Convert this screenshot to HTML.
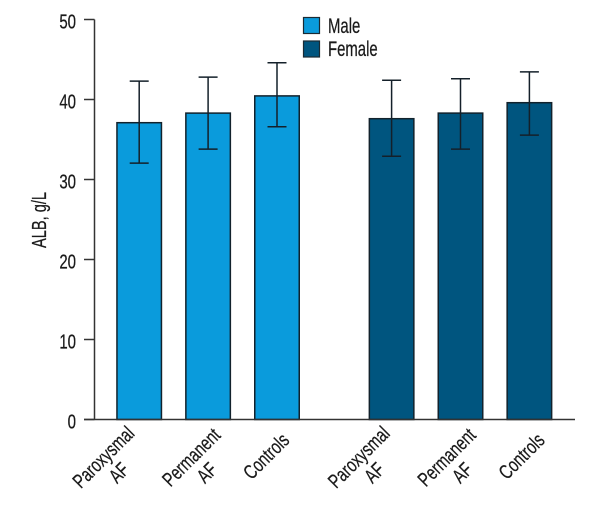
<!DOCTYPE html>
<html>
<head>
<meta charset="utf-8">
<style>
html,body{margin:0;padding:0;background:#fff;}
svg{display:block;}
text{font-family:"Liberation Sans",sans-serif;font-size:20px;fill:#1a1a1a;stroke:#1a1a1a;stroke-width:0.25;}
</style>
</head>
<body>
<svg id="chart" width="600" height="520" viewBox="0 0 600 520" xmlns="http://www.w3.org/2000/svg">
  <g id="bars"></g>
  <g id="axes"></g>
  <text transform="translate(46 220) rotate(-90) scale(0.73 1)" text-anchor="middle">ALB, g/L</text>
  <rect x="303.5" y="17.5" width="16" height="16" fill="#0a9bdc" stroke="#1a2a33" stroke-width="1.2"/>
  <text transform="translate(328 33) scale(0.71 1)" style="font-size:21px">Male</text>
  <rect x="303.5" y="41" width="16" height="16" fill="#00557f" stroke="#1a2a33" stroke-width="1.2"/>
  <text transform="translate(328 56) scale(0.71 1)" style="font-size:21px">Female</text>
</svg>
<script>
const categories = [["Paroxysmal","AF"],["Permanent","AF"],["Controls"]];
const maleValues = [37.1, 38.3, 40.45];
const maleUpper = [42.3, 42.8, 44.6];
const maleLower = [32.05, 33.8, 36.6];
const femaleValues = [37.6, 38.3, 39.6];
const femaleUpper = [42.4, 42.6, 43.45];
const femaleLower = [32.9, 33.8, 35.55];
const yTicks = [0, 10, 20, 30, 40, 50];

const NS = "http://www.w3.org/2000/svg";
const y = v => 419.5 - v * 8;
const barX = (group, i) => (group === 0 ? 139.2 : 391.6) + i * 68.9;
const BAR_W = 44.5;
const CAP = 9.5;
const LINE_GAP = 22;
const labelCenterDx = [-31, -12, -6];
const labelCenterY = [462, 462, 461];
const labelGroupDx = [0, 3];

function make(tag, attrs, parent) {
  const el = document.createElementNS(NS, tag);
  for (const k in attrs) el.setAttribute(k, attrs[k]);
  parent.appendChild(el);
  return el;
}

const barsG = document.getElementById("bars");
const axesG = document.getElementById("axes");

function drawSeries(name, group, values, upper, lower, fill) {
  values.forEach((v, i) => {
    const cx = barX(group, i);
    const bar = make("rect", {x: cx - BAR_W / 2, y: y(v), width: BAR_W, height: y(0) - y(v), fill: fill, stroke: "#12222c", "stroke-width": 1.5}, barsG);
    
    

    const err = make("path", {d: "M" + (cx - CAP) + " " + y(upper[i]) + "H" + (cx + CAP) + "M" + cx + " " + y(upper[i]) + "V" + y(lower[i]) + "M" + (cx - CAP) + " " + y(lower[i]) + "H" + (cx + CAP), fill: "none", stroke: "#14202a", "stroke-width": 1.5}, barsG);
    
    

    const t = make("text", {transform: "translate(" + (cx + labelCenterDx[i] + labelGroupDx[group]) + " " + labelCenterY[i] + ") rotate(-45) scale(0.74 1)", "text-anchor": "middle"}, axesG);
    
    
    categories[i].forEach((line, j) => {
      const s = make("tspan", {x: 0, y: j * LINE_GAP}, t);
      s.textContent = line;
    });
  });
}

drawSeries("male", 0, maleValues, maleUpper, maleLower, "#0a9bdc");
drawSeries("female", 1, femaleValues, femaleUpper, femaleLower, "#00557f");

const yAxis = make("line", {x1: 94.5, x2: 94.5, y1: y(50), y2: y(0), stroke: "#333", "stroke-width": 1.5}, axesG);



const xAxis = make("line", {x1: 84, x2: 575, y1: y(0), y2: y(0), stroke: "#333", "stroke-width": 1.5}, axesG);



yTicks.forEach(v => {
  const tick = make("line", {x1: 84, x2: 94.5, y1: y(v), y2: y(v), stroke: "#333", "stroke-width": 1.5}, axesG);
  
  
  const label = make("text", {transform: "translate(76 " + (y(v) + 9) + ") scale(0.75 1)", "text-anchor": "end"}, axesG);
  
  
  label.textContent = v;
});
</script>
</body>
</html>
